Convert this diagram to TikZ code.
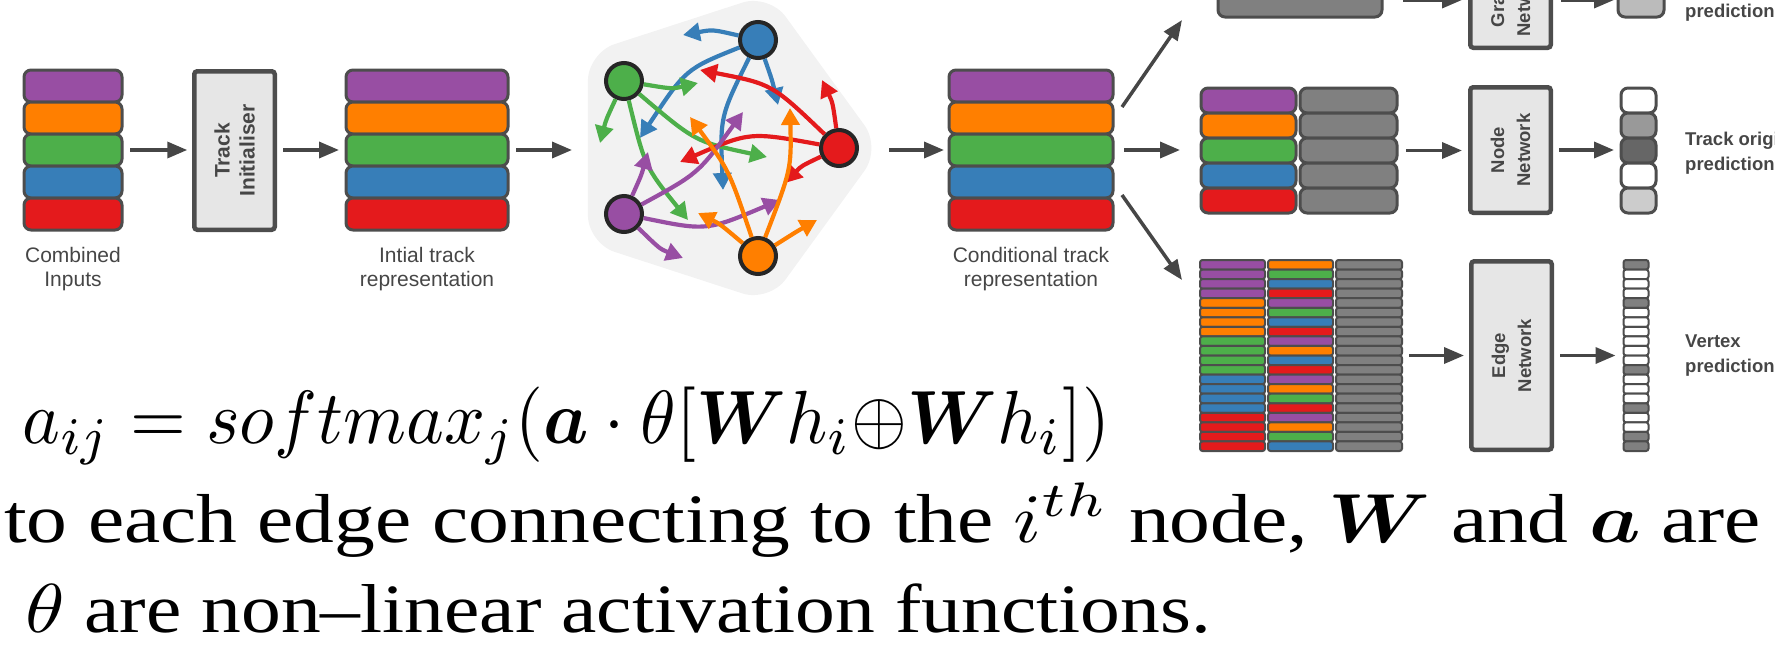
\documentclass[tikz,border=0pt]{standalone}
\usepackage{fontspec}
\usepackage{amsmath}
\setmainfont{Liberation Serif}
\setsansfont{Liberation Sans}
\usetikzlibrary{arrows.meta}

\definecolor{cpurple}{HTML}{984EA3}
\definecolor{corange}{HTML}{FF7F00}
\definecolor{cgreen}{HTML}{4DAF4A}
\definecolor{cblue}{HTML}{377EB8}
\definecolor{cred}{HTML}{E41A1C}
\definecolor{rim}{HTML}{4D4D4D}
\definecolor{ink}{HTML}{464646}
\definecolor{boxfill}{HTML}{E6E6E6}
\definecolor{panelfill}{HTML}{F2F2F2}
\definecolor{cellgray}{HTML}{808080}
\definecolor{lightcell}{HTML}{BBBBBB}
\definecolor{noderim}{HTML}{262626}

\begin{document}
\begin{tikzpicture}[x=1pt,y=-1pt,
  ghost/.style={rectangle,draw=none,inner sep=0pt,outer sep=0pt},
  rowcell/.style={draw=rim,line width=3pt,rounded corners=7pt},
  thincell/.style={draw=rim,line width=2pt,rounded corners=2.5pt},
  netbox/.style={rectangle,draw=rim,fill=boxfill,line width=4.5pt,rounded corners=3pt,inner sep=0pt,outer sep=0pt},
  flow/.style={draw=ink,line width=3.5pt,-{Triangle[length=20pt,width=16pt]}},
  gedge/.style={line width=4.2pt,-{Triangle[length=17pt,width=18pt]}},
  gnode/.style={circle,draw=noderim,line width=4pt,minimum size=36pt,inner sep=0pt},
  stacklabel/.style={font=\sffamily\fontsize{21}{24}\selectfont,text=ink,align=center,inner sep=0pt},
  boxtext/.style={font=\sffamily\bfseries\fontsize{21}{25}\selectfont,text=ink,align=center,rotate=90,inner sep=0pt},
  nettext/.style={font=\sffamily\bfseries\fontsize{18.5}{26}\selectfont,text=ink,align=center,rotate=90,inner sep=0pt},
  outtext/.style={font=\sffamily\bfseries\fontsize{18.5}{25}\selectfont,text=ink,align=left,inner sep=0pt,anchor=base west},
  eqtext/.style={anchor=base west,inner sep=0pt}
]
\useasboundingbox (0,0) rectangle (1775,649);

% ---------- input stacks ----------
\node[ghost,minimum width=98pt,minimum height=160pt] (cin) at (73,150) {};
\foreach \c [count=\k from 0] in {cpurple,corange,cgreen,cblue,cred}
  \draw[rowcell,fill=\c] (24,{70+32*\k}) rectangle (122,{102+32*\k});
\node[stacklabel,anchor=base] (cinlbl) at (73,286) {Combined\\Inputs};

\node[netbox,minimum width=80.5pt,minimum height=158.5pt] (tinit) at (234.5,150.5) {};
\node[boxtext] (tinitlbl) at (tinit) {Track\\Initialiser};

\node[ghost,minimum width=162pt,minimum height=160pt] (itr) at (427,150) {};
\foreach \c [count=\k from 0] in {cpurple,corange,cgreen,cblue,cred}
  \draw[rowcell,fill=\c] (346,{70+32*\k}) rectangle (508,{102+32*\k});
\node[stacklabel,anchor=base] (itrlbl) at (427,286) {Intial track\\representation};

% ---------- graph attention panel ----------
\fill[panelfill,rounded corners=28pt] (825.05,70.95) -- (881,148) -- (769.1,302.1)
  -- (587.9,243.2) -- (587.9,52.8) -- (769.1,-6.1) -- cycle;
\node[ghost,minimum width=290pt,minimum height=296pt] (gpanel) at (732.5,148) {};

\node[gnode,fill=cblue]   (bl) at (758,40) {};
\node[gnode,fill=cgreen]  (gr) at (624,81) {};
\node[gnode,fill=cred]    (re) at (839,148) {};
\node[gnode,fill=cpurple] (pu) at (624,214) {};
\node[gnode,fill=corange] (or) at (758,256) {};

\draw[gedge,cblue] (bl) .. controls (712.7,29.5) .. (683,35);
\draw[gedge,cblue] (bl) .. controls (685.7,69) .. (640,138);
\draw[gedge,cblue] (bl) .. controls (720,116.5) .. (723,190);
\draw[gedge,cblue] (bl) .. controls (772,79.7) .. (778,105);

\draw[gedge,cgreen] (gr) .. controls (672,89) .. (698,83);
\draw[gedge,cgreen] (gr) .. controls (606,119.8) .. (600,143);
\draw[gedge,cgreen] (gr) .. controls (695.3,141.7) .. (767,157);
\draw[gedge,cgreen] (gr) .. controls (644.8,166.5) .. (688,220);

\draw[gedge,cred] (re) .. controls (832.7,102.8) .. (822,80);
\draw[gedge,cred] (re) .. controls (772,84) .. (700,70);
\draw[gedge,cred] (re) .. controls (749.8,131.8) .. (680,162);
\draw[gedge,cred] (re) .. controls (801.3,166) .. (785,183);

\draw[gedge,cpurple] (pu) .. controls (641.3,175.3) .. (648,152);
\draw[gedge,cpurple] (pu) .. controls (698.3,173.5) .. (743,112);
\draw[gedge,cpurple] (pu) .. controls (706.5,231) .. (780,200);
\draw[gedge,cpurple] (pu) .. controls (659.8,248.9) .. (683,258);

\draw[gedge,corange] (or) .. controls (729,170.1) .. (690,117);
\draw[gedge,corange] (or) .. controls (791.4,169) .. (790,108);
\draw[gedge,corange] (or) .. controls (720,224) .. (698,213);
\draw[gedge,corange] (or) .. controls (797,231.3) .. (817,220);

% ---------- conditional stack ----------
\node[ghost,minimum width=164pt,minimum height=160pt] (ctr) at (1031,150) {};
\foreach \c [count=\k from 0] in {cpurple,corange,cgreen,cblue,cred}
  \draw[rowcell,fill=\c] (949,{70+32*\k}) rectangle (1113,{102+32*\k});
\node[stacklabel,anchor=base] (ctrlbl) at (1031,286) {Conditional track\\representation};

% ---------- graph-level branch (top) ----------
\node[ghost,minimum width=164pt,minimum height=57pt] (tbar) at (1300,-11.5) {};
\draw[rowcell,fill=cellgray] (1218,-40) rectangle (1382,17);
\node[netbox,minimum width=80.5pt,minimum height=95.5pt] (gnet) at (1510.5,0) {};
\node[nettext] (gnetlbl) at (gnet) {Graph\\Network};
\node[ghost,minimum width=46pt,minimum height=47pt] (tout) at (1641,-6.5) {};
\draw[rowcell,fill=lightcell] (1618,-30) rectangle (1664,17);
\node[outtext] (toutlbl) at (1685,17) {prediction};

% ---------- node-level branch (middle) ----------
\node[ghost,minimum width=196pt,minimum height=125pt] (mstk) at (1299,150.5) {};
\foreach \c [count=\k from 0] in {cpurple,corange,cgreen,cblue,cred}{
  \draw[rowcell,fill=\c] (1201,{88+25*\k}) rectangle (1296,{113+25*\k});
  \draw[rowcell,fill=cellgray] (1300,{88+25*\k}) rectangle (1397,{113+25*\k});
}
\node[netbox,minimum width=80.5pt,minimum height=125.5pt] (nnet) at (1510.5,150) {};
\node[nettext] (nnetlbl) at (nnet) {Node\\Network};
\node[ghost,minimum width=35pt,minimum height=125pt] (mout) at (1638.5,150.5) {};
\foreach \c [count=\k from 0] in {white,black!40,black!60,white,black!20}
  \draw[rowcell,fill=\c] (1621,{88+25*\k}) rectangle (1656,{113+25*\k});
\node[outtext] (moutlbl) at (1685,170) {Track origin\\prediction};

% ---------- edge-level branch (bottom) ----------
\node[ghost,minimum width=202pt,minimum height=191pt] (bstk) at (1301,355.5) {};
\foreach \c [count=\k from 0] in {cpurple,cpurple,cpurple,cpurple,corange,corange,corange,corange,
    cgreen,cgreen,cgreen,cgreen,cblue,cblue,cblue,cblue,cred,cred,cred,cred}
  \draw[thincell,fill=\c] (1200,{260+9.55*\k}) rectangle (1265,{269.55+9.55*\k});
\foreach \c [count=\k from 0] in {corange,cgreen,cblue,cred,cpurple,cgreen,cblue,cred,cpurple,corange,
    cblue,cred,cpurple,corange,cgreen,cred,cpurple,corange,cgreen,cblue}
  \draw[thincell,fill=\c] (1268,{260+9.55*\k}) rectangle (1333,{269.55+9.55*\k});
\foreach \k in {0,...,19}
  \draw[thincell,fill=cellgray] (1336,{260+9.55*\k}) rectangle (1402,{269.55+9.55*\k});
\node[netbox,minimum width=80.5pt,minimum height=188.5pt] (enet) at (1511.5,355.5) {};
\node[nettext] (enetlbl) at (enet) {Edge\\Network};
\node[ghost,minimum width=25pt,minimum height=191pt] (vout) at (1636,355.5) {};
\foreach \c [count=\k from 0] in {cellgray,white,white,white,cellgray,white,white,white,white,white,
    white,cellgray,white,white,white,cellgray,white,white,cellgray,cellgray}
  \draw[thincell,fill=\c] (1623.5,{260+9.55*\k}) rectangle (1648.5,{269.55+9.55*\k});
\node[outtext] (voutlbl) at (1685,372) {Vertex\\prediction};

% ---------- flow arrows ----------
\draw[flow,shorten <=8pt,shorten >=7pt] (cin.east) -- (cin.east -| tinit.west);
\draw[flow,shorten <=8.25pt,shorten >=7pt] (tinit.east |- itr.west) -- (itr.west);
\draw[flow,shorten <=8pt,shorten >=15.5pt] (itr.east) -- (itr.east -| gpanel.west);
\draw[flow,shorten <=11.5pt,shorten >=5pt] (ctr.west -| gpanel.east) -- (ctr.west);
\draw[flow] ([shift={(9,-43)}]ctr.east) -- ([shift={(-36,3)}]tbar.south west);
\draw[flow,shorten <=11pt,shorten >=21pt] (ctr.east) -- (ctr.east -| mstk.west);
\draw[flow] ([shift={(9,45)}]ctr.east) -- ([shift={(-18,20)}]bstk.north west);
\draw[flow,shorten <=21pt,shorten >=8.25pt] (gnet.west -| tbar.east) -- (gnet.west);
\draw[flow,shorten <=10.25pt,shorten >=4pt] (gnet.east) -- (gnet.east -| tout.west);
\draw[flow,shorten <=9pt,shorten >=8.25pt] (mstk.east) -- (mstk.east -| nnet.west);
\draw[flow,shorten <=8.25pt,shorten >=7pt] (nnet.east) -- (nnet.east -| mout.west);
\draw[flow,shorten <=7pt,shorten >=7.25pt] (bstk.east) -- (bstk.east -| enet.west);
\draw[flow,shorten <=8.25pt,shorten >=8pt] (enet.east) -- (enet.east -| vout.west);

% ---------- attention formula ----------
\node[eqtext] (eq) at (22,443) {\resizebox{1088pt}{!}{\scalebox{1}[1.05]{$a_{ij} = softmax_j(\boldsymbol{a}\cdot\theta[\boldsymbol{W}h_i{\oplus}\boldsymbol{W}h_i])$}}};
\node[eqtext] (ln2) at (4,542) {\resizebox{1756pt}{!}{\scalebox{1}[0.85]{to each edge connecting to the $i^{th}$ node, $\boldsymbol{W}$ and $\boldsymbol{a}$ are}}};
\node[eqtext] (ln3) at (25,632) {\resizebox{1185pt}{!}{\scalebox{1}[0.87]{$\theta$ are non–linear activation functions.}}};
\end{tikzpicture}
\end{document}
